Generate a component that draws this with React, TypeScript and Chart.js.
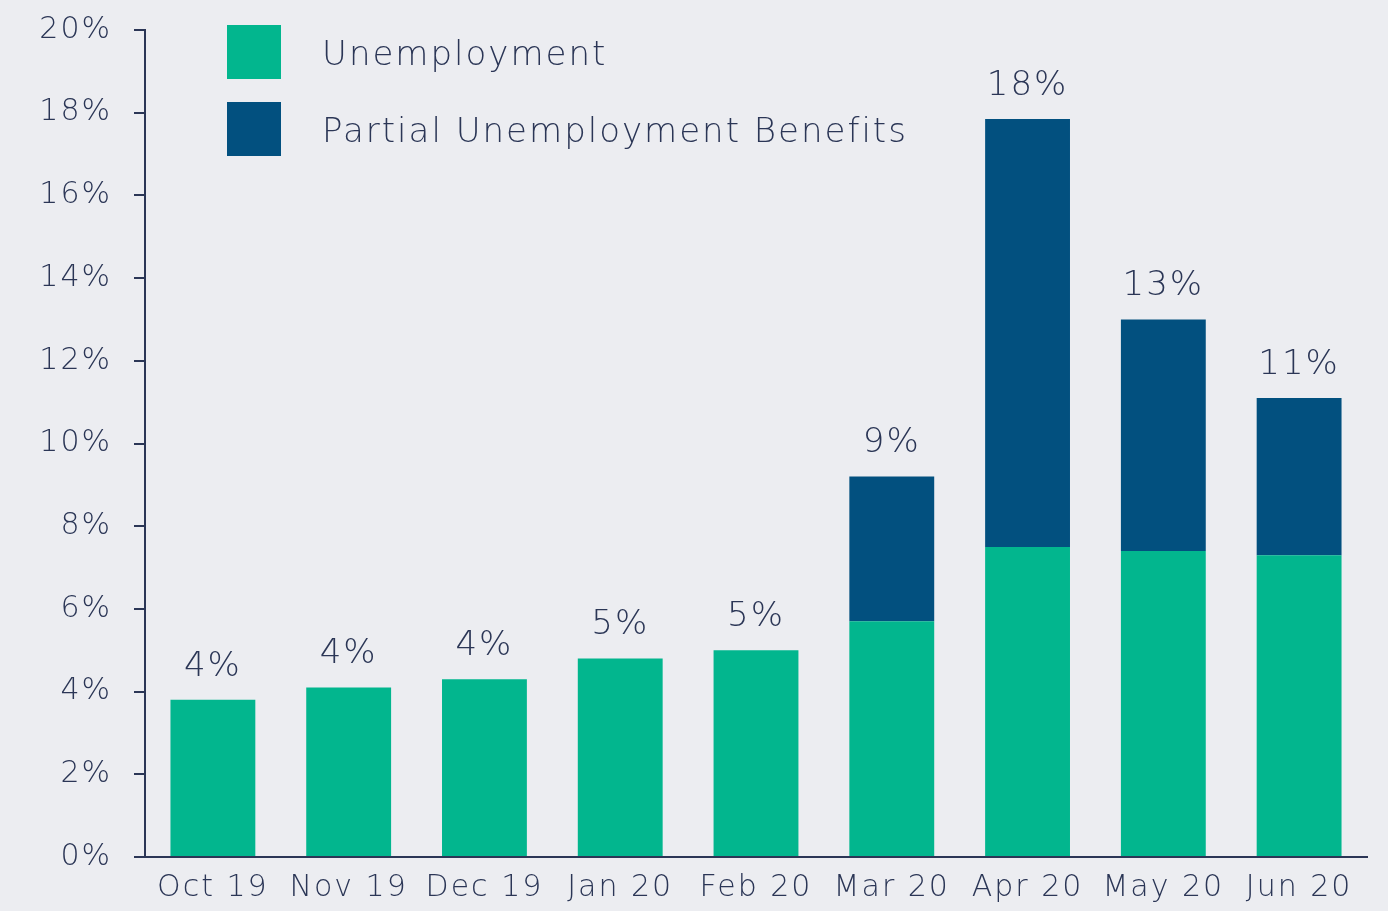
import React, { useEffect, useRef } from "react";
import { Chart, registerables } from "chart.js";

Chart.register(...registerables);

const categories = ["Oct 19", "Nov 19", "Dec 19", "Jan 20", "Feb 20", "Mar 20", "Apr 20", "May 20", "Jun 20"];
const unemployment = [3.8, 4.1, 4.3, 4.8, 5.0, 5.7, 7.5, 7.4, 7.3];
const partialBenefits = [0, 0, 0, 0, 0, 3.5, 10.35, 5.6, 3.8];
const totalLabels = ["4%", "4%", "4%", "5%", "5%", "9%", "18%", "13%", "11%"];
const seriesNames = ["Unemployment", "Partial Unemployment Benefits"];

const GREEN = "#02B68E";
const BLUE = "#02507F";
const TEXT = "#2B3656";
const BG = "#ECEDF1";
const FONT = "'DejaVu Sans', sans-serif";

const spacingPlugin = {
  id: "spacingPlugin",
  beforeDraw(chart: any) {
    (chart.ctx as any).letterSpacing = "2px";
  },
};

const totalsPlugin = {
  id: "totalsPlugin",
  afterDatasetsDraw(chart: any) {
    const ctx = chart.ctx;
    const meta0 = chart.getDatasetMeta(0);
    const meta1 = chart.getDatasetMeta(1);
    ctx.save();
    ctx.letterSpacing = "2px";
    ctx.fillStyle = TEXT;
    ctx.font = `300 34px ${FONT}`;
    ctx.textAlign = "center";
    ctx.textBaseline = "bottom";
    meta0.data.forEach((bar: any, i: number) => {
      const top = Math.min(bar.y, meta1.data[i].y);
      ctx.fillText(totalLabels[i], bar.x, top - 16);
    });
    ctx.restore();
  },
};

const legendPlugin = {
  id: "legendPlugin",
  afterDraw(chart: any) {
    const ctx = chart.ctx;
    const { left, top } = chart.chartArea;
    const colors = [GREEN, BLUE];
    ctx.save();
    ctx.letterSpacing = "2px";
    ctx.font = `300 34px ${FONT}`;
    ctx.textBaseline = "middle";
    ctx.textAlign = "left";
    seriesNames.forEach((name, i) => {
      const y = top - 5 + i * 77;
      ctx.fillStyle = colors[i];
      ctx.fillRect(left + 82, y, 54, 54);
      ctx.fillStyle = TEXT;
      ctx.fillText(name, left + 177, y + 31);
    });
    ctx.restore();
  },
};

export default function App() {
  const ref = useRef<HTMLCanvasElement>(null);
  useEffect(() => {
    document.body.style.margin = "0";
    document.body.style.background = BG;
    const chart = new Chart(ref.current!, {
      type: "bar",
      data: {
        labels: categories,
        datasets: [
          { label: seriesNames[0], data: unemployment, backgroundColor: GREEN, barPercentage: 0.625, categoryPercentage: 1 },
          { label: seriesNames[1], data: partialBenefits, backgroundColor: BLUE, barPercentage: 0.625, categoryPercentage: 1 },
        ],
      },
      options: {
        animation: false,
        responsive: false,
        maintainAspectRatio: false,
        layout: { padding: { top: 30, right: 21, bottom: 0, left: 0 } },
        plugins: { legend: { display: false }, tooltip: { enabled: false } },
        scales: {
          x: {
            stacked: true,
            grid: { display: false, drawTicks: false },
            border: { display: true, color: TEXT, width: 2 },
            ticks: { color: TEXT, font: { family: FONT, size: 30, weight: 300 as any }, padding: 13, maxRotation: 0, autoSkip: false },
            afterFit(axis: any) { axis.height = 54; axis.paddingLeft = 0; axis.paddingRight = 0; },
          },
          y: {
            stacked: true,
            min: 0,
            max: 20,
            grid: { drawOnChartArea: false, drawTicks: true, tickLength: 11, color: TEXT, lineWidth: 2 },
            border: { display: true, color: TEXT, width: 2 },
            ticks: {
              stepSize: 2,
              color: TEXT,
              padding: 22,
              font: { family: FONT, size: 30, weight: 300 as any },
              callback: (v: any) => `${v}%`,
            },
            afterFit(axis: any) { axis.width = 145; axis.paddingTop = 0; axis.paddingBottom = 0; },
          },
        },
      },
      plugins: [spacingPlugin, totalsPlugin, legendPlugin],
    });
    return () => chart.destroy();
  }, []);
  return (
    <div style={{ width: 1388, height: 911, background: BG }}>
      <canvas ref={ref} width={1388} height={911} style={{ display: "block" }} />
    </div>
  );
}
